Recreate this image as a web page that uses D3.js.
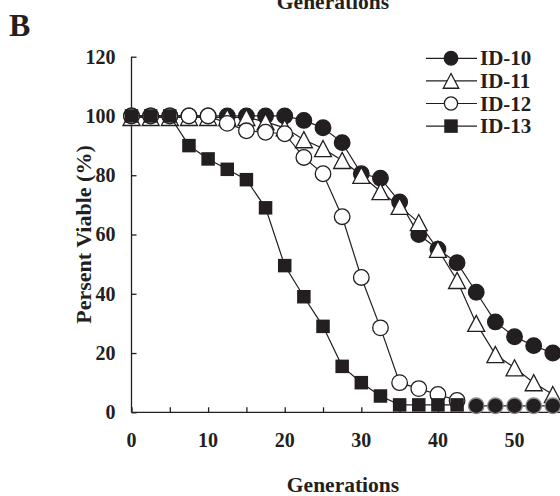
<!DOCTYPE html>
<html>
<head>
<meta charset="utf-8">
<script src="https://cdn.jsdelivr.net/npm/d3@7"></script>
<style>
  body { margin: 0; background: #fff; }
  text { font-family: "Liberation Serif", "Times New Roman", serif; font-weight: bold; fill: #231f20; }
</style>
</head>
<body>
<div id="chart"></div>
<script>
// Data
const generations = [0, 2.5, 5, 7.5, 10, 12.5, 15, 17.5, 20, 22.5, 25, 27.5, 30, 32.5, 35, 37.5, 40, 42.5, 45, 47.5, 50, 52.5, 55];
const id10 = [100, 100, 100, 100, 100, 100, 100, 100, 100, 98.5, 96, 91, 80.5, 79, 71, 60, 55, 50.5, 40.5, 30.5, 25.5, 22.5, 20];
const id11 = [99.5, 99.5, 99.5, 99.5, 99.5, 99.5, 99.5, 98, 96, 92, 89, 85, 80, 74.5, 69.5, 64, 55, 44.5, 30, 19.5, 15, 10, 6];
const id12 = [100, 100, 100, 100, 100, 97.5, 95, 94.5, 94, 86, 80.5, 66, 45.5, 28.5, 10, 8, 6, 4];
const id13 = [100, 100, 100, 90, 85.5, 82, 78.5, 69, 49.5, 39, 29, 15.5, 10, 5.5, 2.5, 2.5, 2.5, 2.5];
// filled points along the bottom after generation 42.5 (not in the legend)
const tail = [null, null, null, null, null, null, null, null, null, null, null, null, null, null, null, null, null, null, 2.2, 2.2, 2.2, 2.2, 2.2];
const yTicks = [0, 20, 40, 60, 80, 100, 120];
const xTicks = [0, 10, 20, 30, 40, 50];
const legendNames = ["ID-10", "ID-11", "ID-12", "ID-13"];

const width = 560, height = 496;

const svg = d3.select("#chart").append("svg")
    .attr("width", width)
    .attr("height", height);

const x = d3.scaleLinear().domain([0, 56]).range([131.5, 560.5]);
const y = d3.scaleLinear().domain([0, 120]).range([412.3, 56.7]);

// Axes (ticks point inwards)
svg.append("g")
    .attr("transform", `translate(${x(0)},0)`)
    .call(d3.axisRight(y).tickValues(yTicks).tickSize(5).tickFormat(""))
    .call(g => g.select(".domain").attr("d", `M0,${y(120)}V${y(0)}`));

svg.append("g")
    .attr("transform", `translate(0,${y(0)})`)
    .call(d3.axisTop(x).tickValues(d3.range(0, 56, 5)).tickSize(5).tickFormat(""))
    .call(g => g.select(".domain").attr("d", `M${x(0)},0H${width}`));

svg.selectAll(".domain, .tick line").attr("stroke", "#231f20").attr("stroke-width", 1.3);

svg.selectAll(".ylab")
    .data(yTicks)
    .enter().append("text")
    .attr("class", "ylab")
    .attr("x", 115.5)
    .attr("y", d => y(d))
    .attr("dy", "0.34em")
    .attr("text-anchor", "end")
    .style("font-size", "20px")
    .text(d => d);

svg.selectAll(".xlab")
    .data(xTicks)
    .enter().append("text")
    .attr("class", "xlab")
    .attr("x", d => x(d))
    .attr("y", 447)
    .attr("text-anchor", "middle")
    .style("font-size", "20px")
    .text(d => d);

// Titles
svg.append("text")
    .attr("x", 343)
    .attr("y", 492)
    .attr("text-anchor", "middle")
    .style("font-size", "21.5px")
    .text("Generations");

svg.append("text")
    .attr("x", 333)
    .attr("y", 9)
    .attr("text-anchor", "middle")
    .style("font-size", "21.5px")
    .text("Generations");

svg.append("text")
    .attr("transform", `translate(91,${(y(0) + y(120)) / 2}) rotate(-90)`)
    .attr("text-anchor", "middle")
    .style("font-size", "22px")
    .text("Persent Viable (%)");

svg.append("text")
    .attr("x", 9)
    .attr("y", 35.5)
    .style("font-size", "32px")
    .text("B");

// Marker drawing
function drawMarker(sel, shape, size) {
    if (shape === "circle" || shape === "open") {
        sel.append("circle")
            .attr("r", size)
            .attr("fill", shape === "circle" ? "#231f20" : "#fff")
            .attr("stroke", "#231f20")
            .attr("stroke-width", 1.3);
    } else if (shape === "square") {
        sel.append("rect")
            .attr("x", -size / 2).attr("y", -size / 2)
            .attr("width", size).attr("height", size)
            .attr("fill", "#231f20");
    } else if (shape === "triangle") {
        const w = size, h = size * 0.95;
        sel.append("path")
            .attr("d", `M0,${-h / 2}L${w / 2},${h / 2}L${-w / 2},${h / 2}Z`)
            .attr("fill", "#fff")
            .attr("stroke", "#231f20")
            .attr("stroke-width", 1.3);
    }
}

const series = [
    { values: id10, shape: "circle", size: 7.8 },
    { values: id11, shape: "triangle", size: 17 },
    { values: id12, shape: "open", size: 7.8 },
    { values: id13, shape: "square", size: 13.5 },
    { values: tail, shape: "tail", size: 7.8 }
];

const line = d3.line()
    .defined(d => d.v != null)
    .x(d => x(d.g))
    .y(d => y(d.v));

series.forEach(s => {
    const pts = generations.map((g, i) => ({ g: g, v: s.values[i] })).filter(d => d.v != null);
    svg.append("path")
        .datum(pts)
        .attr("fill", "none")
        .attr("stroke", "#231f20")
        .attr("stroke-width", 1.2)
        .attr("d", line);
    const marks = svg.append("g").selectAll("g")
        .data(pts)
        .enter().append("g")
        .attr("transform", d => `translate(${x(d.g)},${y(d.v)})`);
    if (s.shape === "tail") {
        marks.append("circle")
            .attr("r", s.size)
            .attr("fill", "#231f20")
            .attr("stroke", "#8a8a8a")
            .attr("stroke-width", 1.3);
    } else {
        drawMarker(marks, s.shape, s.size);
    }
});

// Legend
const legendShapes = [
    { shape: "circle", size: 6.8 },
    { shape: "triangle", size: 15.5 },
    { shape: "open", size: 6.6 },
    { shape: "square", size: 13.5 }
];
const legend = svg.append("g");
legendNames.forEach((name, i) => {
    const ly = 58.3 + i * 22.6;
    const row = legend.append("g").attr("transform", `translate(0,${ly})`);
    row.append("line")
        .attr("x1", 426).attr("x2", 477)
        .attr("stroke", "#231f20").attr("stroke-width", 1.2);
    drawMarker(row.append("g").attr("transform", "translate(451,0)"), legendShapes[i].shape, legendShapes[i].size);
    row.append("text")
        .attr("x", 480)
        .attr("dy", "0.34em")
        .style("font-size", "21px")
        .text(name);
});
</script>
</body>
</html>
